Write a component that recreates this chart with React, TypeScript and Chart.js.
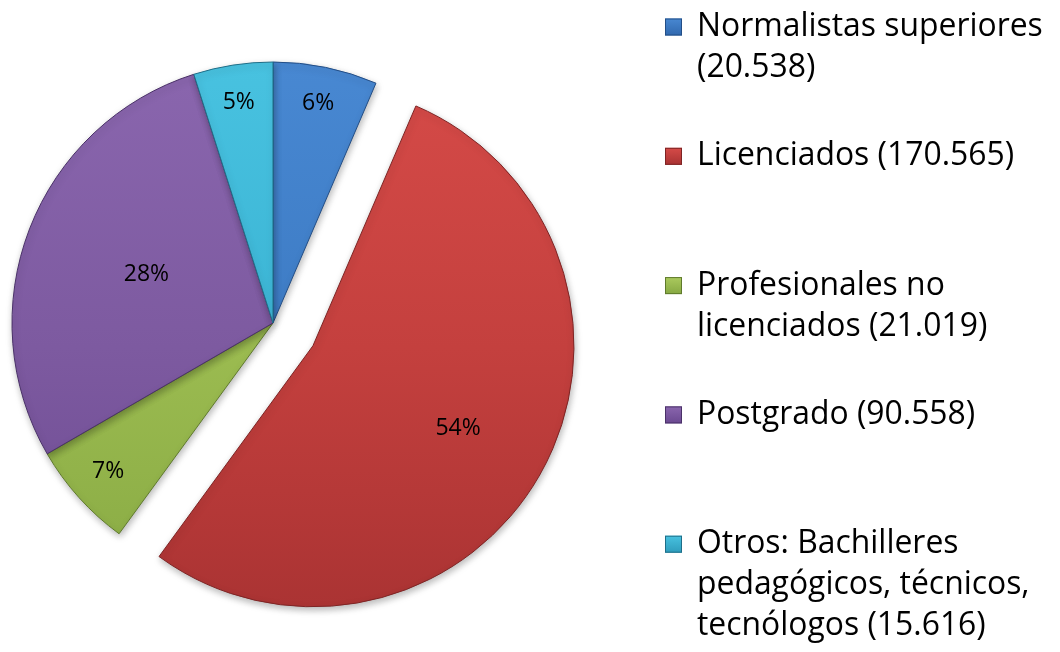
import React, { useEffect, useRef } from "react";
import { Chart, registerables } from "chart.js";

Chart.register(...registerables);

// ---- data ----
const categories = [
  "Normalistas superiores",
  "Licenciados",
  "Profesionales no licenciados",
  "Postgrado",
  "Otros: Bachilleres pedagógicos, técnicos, tecnólogos",
];
const values = [20538, 170565, 21019, 90558, 15616];

// ---- styles ----
const baseColors = ["#3D7BC4", "#C4403E", "#9BBB50", "#7D5AA0", "#3BB4D4"];
const topColors = ["#4888D2", "#D64B48", "#ABCA5E", "#8A66AE", "#48C2E0"];
const bottomColors = ["#3068AE", "#A83232", "#86A842", "#6A4890", "#2E9CBC"];
const edgeColors = ["#234E86", "#7E2424", "#5F7A2C", "#4A3168", "#1F6E88"];
const explodeDistances = [0, 46, 0, 0, 0];
const labelRadiusFractions = [0.86, 0.64, 0.85, 0.52, 0.855];

const FONT = '"Open Sans", "Liberation Sans", sans-serif';
const PIE_RADIUS = 261;

function fmt(v: number): string {
  return String(v).replace(/\B(?=(\d{3})+(?!\d))/g, ".");
}

const explodePlugin = {
  id: "explode",
  afterDatasetsUpdate(chart: any) {
    const meta = chart.getDatasetMeta(0);
    meta.data.forEach((arc: any, i: number) => {
      const d = explodeDistances[i] || 0;
      if (!d) return;
      const mid = (arc.startAngle + arc.endAngle) / 2;
      arc.x += Math.cos(mid) * d;
      arc.y += Math.sin(mid) * d;
    });
  },
};

const shadowPlugin = {
  id: "pieShadow",
  beforeDatasetsDraw(chart: any) {
    const c = chart.ctx;
    c.save();
    c.shadowColor = "rgba(0,0,0,0.28)";
    c.shadowBlur = 7;
    c.shadowOffsetX = 1;
    c.shadowOffsetY = 3;
  },
  afterDatasetsDraw(chart: any) {
    chart.ctx.restore();
  },
};

const labelPlugin = {
  id: "pctLabels",
  afterDraw(chart: any) {
    const c = chart.ctx;
    const meta = chart.getDatasetMeta(0);
    const data = chart.data.datasets[0].data as number[];
    const total = data.reduce((a, b) => a + b, 0);
    c.save();
    c.font = `23px ${FONT}`;
    c.fillStyle = "#000";
    c.textAlign = "center";
    c.textBaseline = "middle";
    meta.data.forEach((arc: any, i: number) => {
      const mid = (arc.startAngle + arc.endAngle) / 2;
      const d = arc.outerRadius * labelRadiusFractions[i];
      const x = arc.x + Math.cos(mid) * d;
      const y = arc.y + Math.sin(mid) * d;
      c.fillText(Math.round((data[i] / total) * 100) + "%", x, y);
    });
    c.restore();
  },
};

const legendPlugin = {
  id: "sideLegend",
  afterDraw(chart: any) {
    const c = chart.ctx;
    const labels = chart.data.labels as string[];
    const data = chart.data.datasets[0].data as number[];
    c.save();
    // fit font so the first entry line width matches the reference
    c.font = `100px ${FONT}`;
    const w100 = c.measureText(labels[0]).width;
    const size = Math.min(40, (100 * 346) / w100);
    c.font = `${size}px ${FONT}`;
    c.fillStyle = "#000";
    c.textAlign = "left";
    c.textBaseline = "alphabetic";
    const markerX = 665;
    const textX = 697;
    const maxW = 356;
    const firstY = 27;
    const step = 129.3;
    const lineH = 41;
    labels.forEach((lab, i) => {
      const text = `${lab} (${fmt(data[i])})`;
      const words = text.split(" ");
      const lines: string[] = [];
      let cur = "";
      words.forEach((w) => {
        const test = cur ? cur + " " + w : w;
        if (cur && c.measureText(test).width > maxW) {
          lines.push(cur);
          cur = w;
        } else cur = test;
      });
      if (cur) lines.push(cur);
      const cy = firstY + i * step;
      // marker
      const ms = 17;
      const mx = markerX;
      const my = cy - ms / 2;
      const g = c.createLinearGradient(0, my, 0, my + ms);
      g.addColorStop(0, topColors[i]);
      g.addColorStop(1, bottomColors[i]);
      c.fillStyle = g;
      c.fillRect(mx, my, ms, ms);
      c.strokeStyle = edgeColors[i];
      c.lineWidth = 1;
      c.strokeRect(mx + 0.5, my + 0.5, ms - 1, ms - 1);
      c.fillStyle = "#000";
      lines.forEach((ln, k) => {
        c.fillText(ln, textX, cy + 9 + k * lineH);
      });
    });
    c.restore();
  },
};

export default function App() {
  const ref = useRef<HTMLCanvasElement | null>(null);
  useEffect(() => {
    if (!ref.current) return;
    const gradientFor = (ctx: any) => {
      const chart = ctx.chart;
      const area = chart.chartArea;
      const i = ctx.dataIndex;
      if (!area || i === undefined) return baseColors[i ?? 0];
      const cy = (area.top + area.bottom) / 2;
      const g = chart.ctx.createLinearGradient(0, cy - PIE_RADIUS, 0, cy + PIE_RADIUS + 50);
      g.addColorStop(0, topColors[i]);
      g.addColorStop(0.5, baseColors[i]);
      g.addColorStop(1, bottomColors[i]);
      return g;
    };
    const chart = new Chart(ref.current, {
      type: "pie",
      data: {
        labels: categories,
        datasets: [
          {
            data: values,
            backgroundColor: gradientFor,
            borderColor: edgeColors,
            borderWidth: 1,
            clip: false,
          } as any,
        ],
      },
      options: {
        responsive: false,
        animation: false,
        events: [],
        radius: PIE_RADIUS,
        layout: { padding: { left: 0, top: 0, right: 514, bottom: 6 } },
        plugins: {
          legend: { display: false },
          tooltip: { enabled: false },
        },
      } as any,
      plugins: [explodePlugin, shadowPlugin, labelPlugin, legendPlugin],
    });
    return () => chart.destroy();
  }, []);
  return (
    <div style={{ position: "absolute", left: 0, top: 0, width: 1060, height: 652, background: "#fff" }}>
      <canvas ref={ref} width={1060} height={652} style={{ display: "block" }} />
    </div>
  );
}
